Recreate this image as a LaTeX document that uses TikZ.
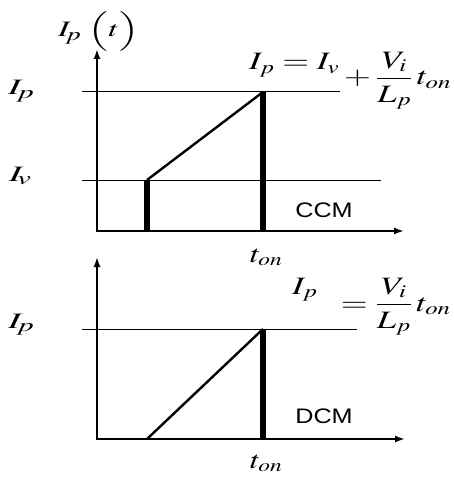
\documentclass[tikz,border=0pt]{standalone}
\usepackage{amsmath}
\usepackage{graphicx}
\usepackage{mathptmx}
\usepackage{fontspec}
\newfontfamily\sansf[FakeStretch=1.2]{Liberation Sans}
\DeclareMathSizes{22}{22}{18}{13}
\DeclareMathSizes{25}{25}{18}{13}
\newcommand{\wide}[2]{\scalebox{#1}[1]{#2}}
\usetikzlibrary{arrows.meta}
\begin{document}
\begin{tikzpicture}[x=1pt,y=-1pt,
  axis/.style={line width=1.8pt,{Latex[length=10pt,width=7pt]}-{Latex[length=10pt,width=7pt]}},
  level/.style={line width=1pt},
  bar/.style={line width=6.5pt},
  ramp/.style={line width=2.4pt},
  lbl/.style={inner sep=0pt,anchor=base west,font=\fontsize{22}{26}\selectfont},
  eqn/.style={inner sep=0pt,anchor=base west,font=\fontsize{25}{30}\selectfont},
  mode/.style={inner sep=0pt,font=\sansf\fontsize{21}{25}\selectfont}]
\useasboundingbox (0,0) rectangle (453,481);
% ---------- top (CCM) ----------
\coordinate (o1) at (97,231);
\coordinate (y1) at (97,49);
\coordinate (x1) at (404,231);
\coordinate (pl1) at (82,92);  \coordinate (pr1) at (340,92);
\coordinate (vl1) at (82,180); \coordinate (vr1) at (381,180);
\coordinate (a1) at (147,180); \coordinate (a1b) at (147,231);
\coordinate (b1) at (263,92);  \coordinate (b1b) at (263,231);
\draw[level] (pl1) -- (pr1);
\draw[level] (vl1) -- (vr1);
\draw[axis] (y1) -- (o1) -- (x1);
\draw[bar] (a1) -- (a1b);
\draw[bar] (b1) -- (b1b);
\draw[ramp] (a1) -- (b1);
\node[lbl] (ipt) at (58,37) {\wide{1.5}{$I_{\!p}\;\Bigl(t\Bigr)$}};
\node[lbl] (ip1) at (8,95) {\wide{1.7}{$I_{\!p}$}};
\node[lbl] (iv1) at (9,181) {\wide{1.7}{$I_{\!v}$}};
\node[eqn] (eq1) at (249,85) {\wide{1.38}{$\raisebox{15pt}{$I_p = I_v$} + \dfrac{V_i}{L_p}\,t_{on}$}};
\node[mode] (ccm) at (324,210.5) {CCM};
\node[eqn] (ton1) at (250,262) {\wide{1.3}{$t_{on}$}};
% ---------- bottom (DCM) ----------
\coordinate (o2) at (97,439);
\coordinate (y2) at (97,257);
\coordinate (x2) at (405,439);
\coordinate (pl2) at (82,329); \coordinate (pr2) at (357,329);
\coordinate (a2) at (147,439);
\coordinate (b2) at (263,329); \coordinate (b2b) at (263,439);
\draw[level] (pl2) -- (pr2);
\draw[axis] (y2) -- (o2) -- (x2);
\draw[bar] (b2) -- (b2b);
\draw[ramp] (a2) -- (b2);
\node[lbl] (ip2) at (8,328) {\wide{1.7}{$I_{\!p}$}};
\node[eqn] (eq2) at (292,311) {\wide{1.38}{$\raisebox{17pt}{$I_p$}\;\; = \dfrac{V_i}{L_p}\,t_{on}$}};
\node[mode] (dcm) at (324,416.5) {DCM};
\node[eqn] (ton2) at (250,468) {\wide{1.3}{$t_{on}$}};
\end{tikzpicture}
\end{document}
